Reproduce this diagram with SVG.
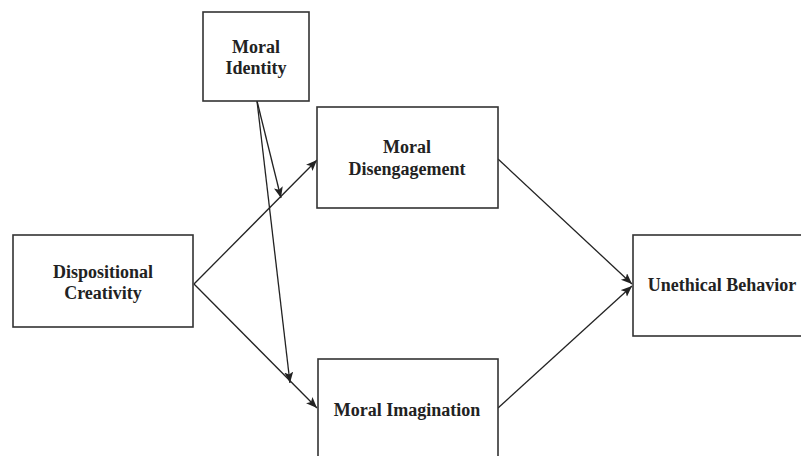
<svg xmlns="http://www.w3.org/2000/svg" width="801" height="456" viewBox="0 0 801 456">
<style>
.box{fill:#fff;stroke:#333;stroke-width:1.6}
.lbl{font-family:"Liberation Serif","Times New Roman",serif;font-weight:bold;font-size:18px;fill:#222;text-anchor:middle}
.con{stroke:#222;stroke-width:1.3;fill:none;marker-end:url(#ah)}
</style>
<defs>
<marker id="ah" markerUnits="userSpaceOnUse" markerWidth="12" markerHeight="10" refX="11" refY="4.5" orient="auto">
<path d="M0,0 L11,4.5 L0,9 L2.5,4.5 Z" fill="#222"/>
</marker>
</defs>
<rect width="801" height="456" fill="#fff"/>
<g id="connectors">
<line class="con" x1="194" y1="284" x2="317" y2="160"/>
<line class="con" x1="194" y1="284" x2="317" y2="408"/>
<line class="con" x1="257" y1="101" x2="281" y2="198"/>
<line class="con" x1="257" y1="101" x2="290" y2="383"/>
<line class="con" x1="498" y1="159" x2="632" y2="284"/>
<line class="con" x1="498" y1="408" x2="632" y2="286"/>
</g>
<g id="moral-identity">
<rect class="box" x="203" y="12" width="106" height="89"/>
<text class="lbl" x="256" y="53">Moral</text>
<text class="lbl" x="256" y="74">Identity</text>
</g>
<g id="dispositional-creativity">
<rect class="box" x="13" y="235" width="180" height="92"/>
<text class="lbl" x="103" y="278">Dispositional</text>
<text class="lbl" x="103" y="299">Creativity</text>
</g>
<g id="moral-disengagement">
<rect class="box" x="317" y="107" width="181" height="101"/>
<text class="lbl" x="407" y="153">Moral</text>
<text class="lbl" x="407" y="175">Disengagement</text>
</g>
<g id="moral-imagination">
<rect class="box" x="318" y="359" width="180" height="110"/>
<text class="lbl" x="407" y="416">Moral Imagination</text>
</g>
<g id="unethical-behavior">
<rect class="box" x="633" y="235" width="180" height="101"/>
<text class="lbl" x="722" y="291">Unethical Behavior</text>
</g>
</svg>
